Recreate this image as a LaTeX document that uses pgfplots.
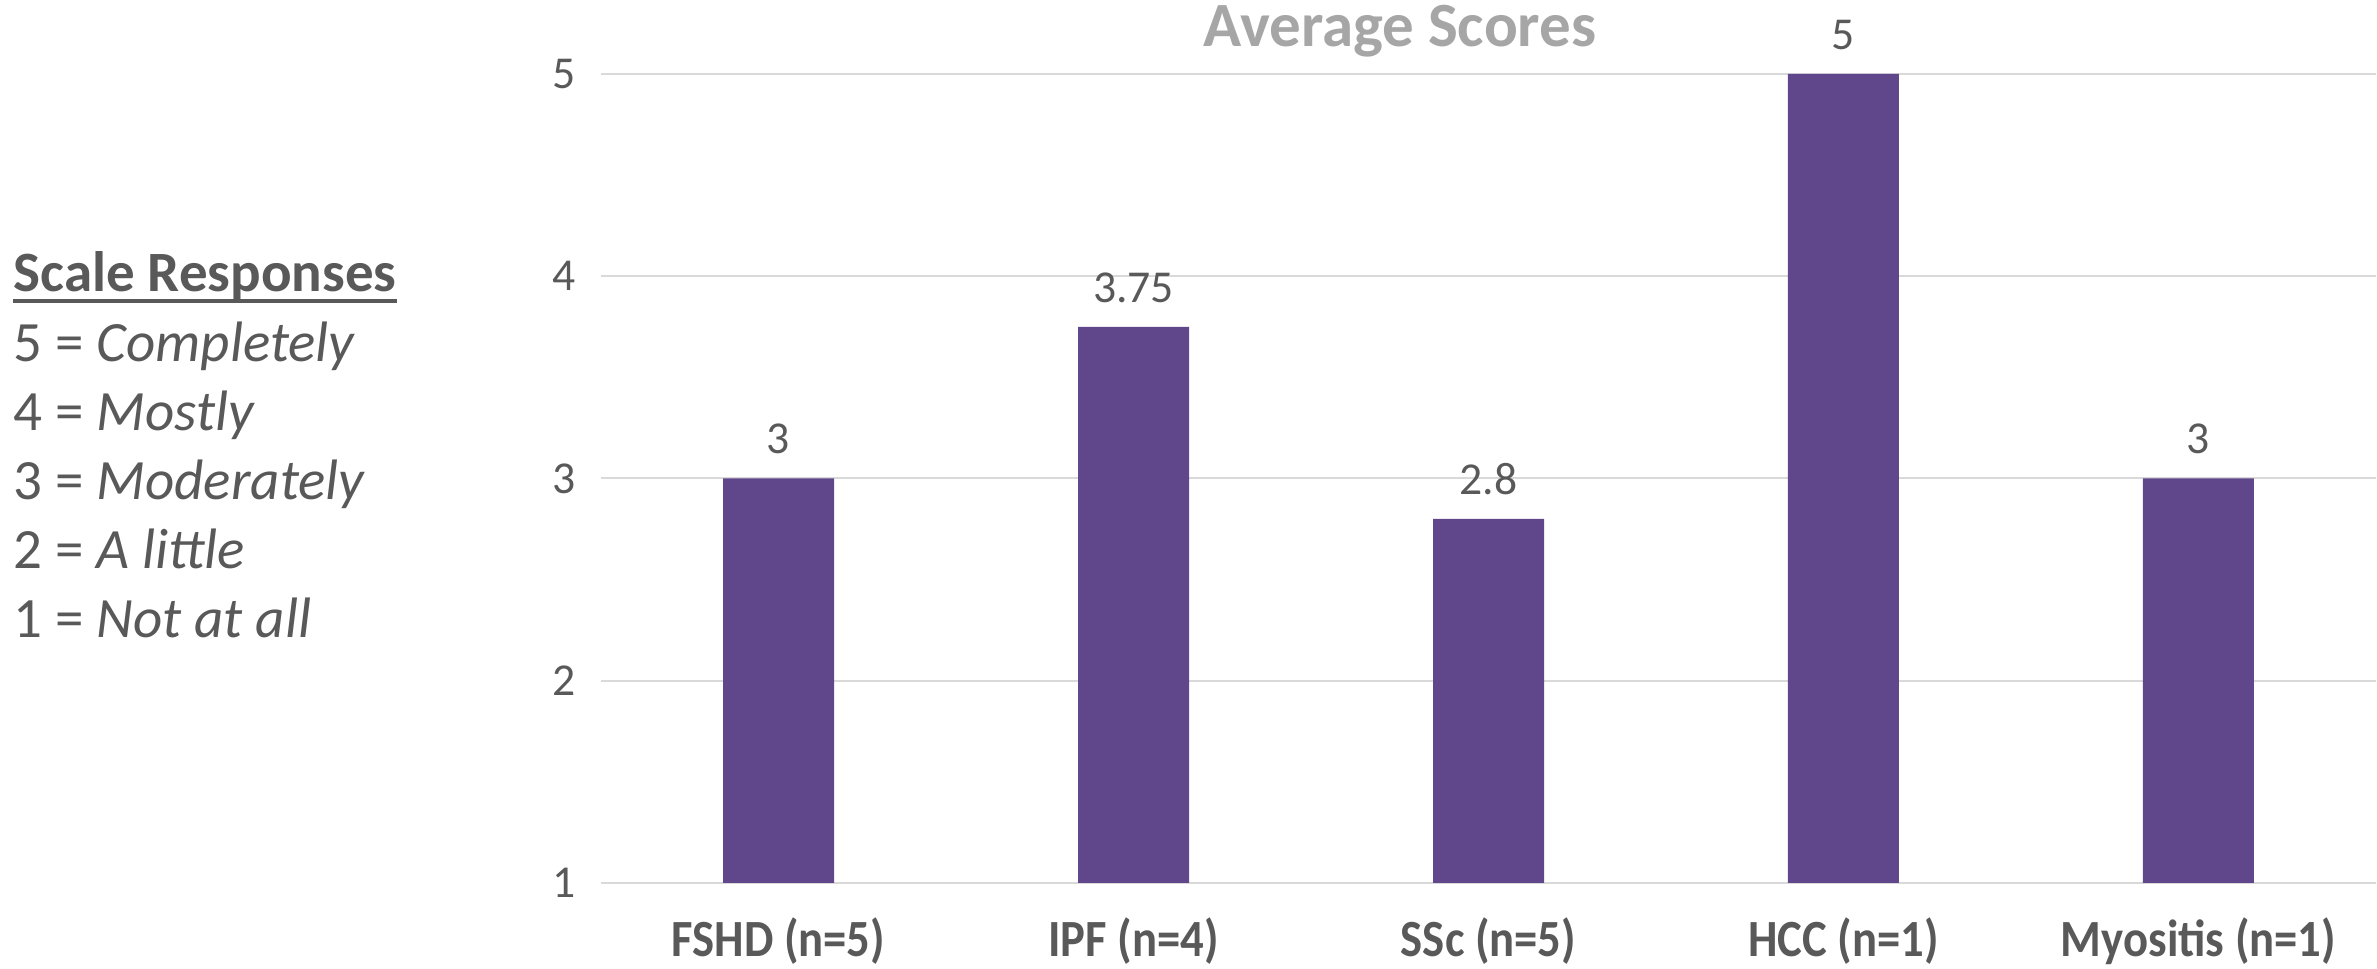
\documentclass[border=0pt]{standalone}
\usepackage{pgfplots}
\pgfplotsset{compat=1.18}
\usepackage{fontspec}
\setmainfont{Carlito}
\definecolor{txt}{RGB}{89,89,89}
\definecolor{ttl}{RGB}{166,166,166}
\definecolor{grd}{RGB}{217,217,217}
\definecolor{bar}{RGB}{96,70,139}
\begin{document}
\begin{tikzpicture}
\path[use as bounding box] (0,0) rectangle (713.1pt,290.7pt);
\begin{axis}[
  at={(180.3pt,25.8pt)}, anchor=south west,
  scale only axis, width=532.5pt, height=242.7pt,
  xmin=-0.5, xmax=4.5, ymin=1, ymax=5,
  ytick={1,2,3,4,5},
  xtick={0,1,2,3,4},
  xticklabels={FSHD (n=5),IPF (n=4),SSc (n=5),HCC (n=1),Myositis (n=1)},
  ymajorgrids, grid style={draw=grd, line width=0.6pt},
  axis line style={draw=none},
  major tick style={draw=none},
  /pgf/number format/assume math mode=true,
  yticklabel style={font=\fontsize{13.7}{16}\selectfont, text=txt, anchor=east, inner sep=0pt, xshift=-7.5pt},
  xticklabel style={font=\fontsize{14}{17}\selectfont\bfseries, text=txt, anchor=base, inner sep=0pt, yshift=-17.8pt, yscale=1.12},
  ybar, bar width=33.3pt, bar shift=0pt,
  clip mode=individual,
  nodes near coords,
  every node near coord/.append style={font=\fontsize{13.7}{16}\selectfont, text=txt, anchor=base, inner sep=0pt, yshift=7.4pt},
]
\addplot[fill=bar, draw=none] coordinates {(0,3) (1,3.75) (2,2.8) (3,5) (4,3)};
\end{axis}
\node[anchor=base, inner sep=0pt, text=ttl, font=\fontsize{18.9}{22}\selectfont\bfseries] at (420pt,276.6pt) {Average Scores};
\begin{scope}[every node/.style={anchor=base west, inner sep=0pt, text=txt, font=\fontsize{17.1}{20}\selectfont}]
\node (sr) at (3.9pt,203.1pt) {\bfseries Scale Responses};
\node at (3.9pt,182.1pt) {5 = \textit{Completely}};
\node at (3.9pt,161.4pt) {4 = \textit{Mostly}};
\node at (3.9pt,140.7pt) {3 = \textit{Moderately}};
\node at (3.9pt,120.0pt) {2 = \textit{A little}};
\node at (3.9pt,99.3pt) {1 = \textit{Not at all}};
\end{scope}
\draw[txt, line width=1.2pt] ([yshift=-2.7pt]sr.base west) -- ([yshift=-2.7pt]sr.base east);
\end{tikzpicture}
\end{document}
